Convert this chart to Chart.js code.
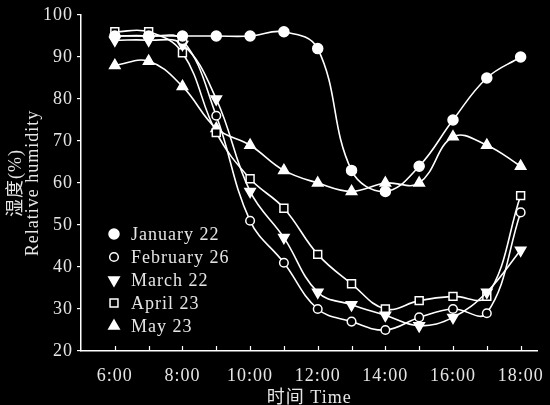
<!DOCTYPE html>
<html>
<head>
<meta charset="utf-8">
<script src="https://cdn.jsdelivr.net/npm/chart.js@4.4.0/dist/chart.umd.min.js"></script>
<style>
  html, body { margin: 0; padding: 0; background: #000; }
  #wrap { width: 550px; height: 405px; }
</style>
</head>
<body>
<div id="wrap"><canvas id="humidityChart"></canvas></div>
<script>
// hours of the day (x) and relative humidity (%) per sampling date
const hours = [6, 7, 8, 9, 10, 11, 12, 13, 14, 15, 16, 17, 18];
const jan22 = [95, 95, 95, 95, 95, 96, 92, 63, 58, 64, 75, 85, 90];
const feb26 = [95, 95, 94, 76, 51, 41, 30, 27, 25, 28, 30, 29, 53];
const mar22 = [94, 94, 93, 80, 58, 47, 34, 31, 28.5, 26, 28, 34, 44];
const apr23 = [96, 96, 91, 72, 61, 54, 43, 36, 30, 32, 33, 33, 57];
const may23 = [88, 89, 83, 73, 69, 63, 60, 58, 60, 60, 71, 69, 64];
const seriesNames = ["January 22", "February 26", "March 22", "April 23", "May 23"];
const xLabelHours = [6, 8, 10, 12, 14, 16, 18];
const yTicks = [20, 30, 40, 50, 60, 70, 80, 90, 100];

const FONT = "'Liberation Serif', 'Times New Roman', 'Noto Sans CJK SC', serif";
const TEXT = "#e6e6e6";

const toPoints = (vals) => hours.map((h, i) => ({ x: h, y: vals[i] }));

const markers = [
  { pointStyle: "circle", rotation: 0, radius: 5, fill: "#fff" },
  { pointStyle: "circle", rotation: 0, radius: 4.3, fill: "#000" },
  { pointStyle: "triangle", rotation: 180, radius: 6, fill: "#fff" },
  { pointStyle: "rect", rotation: 0, radius: 5.6, fill: "#000" },
  { pointStyle: "triangle", rotation: 0, radius: 6, fill: "#fff" },
];

const allSeries = [jan22, feb26, mar22, apr23, may23];

const datasets = allSeries.map((vals, i) => ({
  label: seriesNames[i],
  data: toPoints(vals),
  borderColor: "#fff",
  borderWidth: 1.6,
  tension: 0.4,
  pointStyle: markers[i].pointStyle,
  pointRotation: markers[i].rotation,
  pointRadius: markers[i].radius,
  pointBackgroundColor: markers[i].fill,
  pointBorderColor: "#fff",
  pointBorderWidth: 1.5,
}));

// letter spacing to match the wide serif text of the original
const spacing = {
  id: "spacing",
  beforeLayout(chart) { chart.ctx.letterSpacing = "1px"; },
  beforeDraw(chart) { chart.ctx.letterSpacing = "1px"; },
};

// x ticks point inward, drawn on each hour
const innerTicks = {
  id: "innerTicks",
  afterDraw(chart) {
    const { ctx } = chart;
    const xs = chart.scales.x;
    const bottom = chart.chartArea.bottom;
    ctx.save();
    ctx.strokeStyle = "#fff";
    ctx.lineWidth = 1.2;
    hours.forEach((h) => {
      const x = Math.round(xs.getPixelForValue(h)) + 0.5;
      ctx.beginPath();
      ctx.moveTo(x, bottom);
      ctx.lineTo(x, bottom - 5);
      ctx.stroke();
    });
    ctx.restore();
  },
};

// legend inside the plot area, lower left
const innerLegend = {
  id: "innerLegend",
  afterDatasetsDraw(chart) {
    const { ctx } = chart;
    const area = chart.chartArea;
    ctx.save();
    ctx.letterSpacing = "1px";
    ctx.font = "18px " + FONT;
    ctx.textBaseline = "middle";
    ctx.textAlign = "left";
    seriesNames.forEach((name, i) => {
      const y = area.top + 219 + i * 23;
      const x = area.left + 33;
      ctx.fillStyle = markers[i].fill;
      ctx.strokeStyle = "#fff";
      ctx.lineWidth = 1.5;
      Chart.helpers.drawPoint(ctx, {
        pointStyle: markers[i].pointStyle,
        rotation: markers[i].rotation,
        radius: markers[i].radius,
        borderWidth: 1.5,
      }, x, y);
      ctx.fillStyle = TEXT;
      ctx.fillText(name, x + 17, y + 1);
    });
    ctx.restore();
  },
};

const ctx = document.getElementById("humidityChart").getContext("2d");
const chart = new Chart(ctx, {
  type: "line",
  data: { datasets },
  options: {
    responsive: true,
    maintainAspectRatio: false,
    animation: false,
    layout: { padding: { top: 15, right: 10, left: 0, bottom: 0 } },
    plugins: {
      legend: { display: false },
      tooltip: { enabled: false },
    },
    scales: {
      x: {
        type: "linear",
        min: 5,
        max: 18.5,
        afterFit(scale) { scale.height = 54; },
        afterBuildTicks(scale) {
          scale.ticks = xLabelHours.map((h) => ({ value: h }));
        },
        ticks: {
          autoSkip: false,
          maxRotation: 0,
          color: TEXT,
          padding: 6,
          font: { family: FONT, size: 18 },
          callback: (v) => v + ":00",
        },
        grid: { display: false },
        border: { display: true, color: "#fff", width: 1.5 },
        title: {
          display: true,
          text: "时间 Time",
          color: TEXT,
          font: { family: FONT, size: 18, lineHeight: 1 },
          padding: { top: 0, bottom: -2 },
        },
      },
      y: {
        min: 20,
        max: 100,
        afterFit(scale) { scale.width = 81; },
        afterBuildTicks(scale) {
          scale.ticks = yTicks.map((v) => ({ value: v }));
        },
        ticks: {
          color: TEXT,
          padding: 4,
          font: { family: FONT, size: 18 },
        },
        grid: {
          drawOnChartArea: false,
          drawTicks: true,
          tickLength: 4,
          color: "#fff",
          lineWidth: 1.2,
        },
        border: { display: true, color: "#fff", width: 1.5 },
        title: {
          display: true,
          text: ["湿度(%)", "Relative humidity"],
          color: TEXT,
          font: { family: FONT, size: 18, lineHeight: "17px" },
          padding: { top: 8, bottom: 0 },
        },
      },
    },
  },
  plugins: [spacing, innerTicks, innerLegend],
});
</script>
</body>
</html>
